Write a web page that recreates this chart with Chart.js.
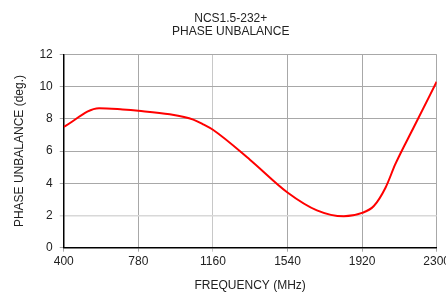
<!DOCTYPE html>
<html>
<head>
<meta charset="utf-8">
<script src="https://cdn.jsdelivr.net/npm/chart.js@4.4.0/dist/chart.umd.min.js"></script>
<style>
html,body{margin:0;padding:0;overflow:hidden;background:#fff;width:446px;height:294px;}
#wrap{width:453px;height:294px;position:relative;}
</style>
</head>
<body>
<div id="wrap"><canvas id="c" width="453" height="294"></canvas></div>
<script>
const titleLines = ['NCS1.5-232+', 'PHASE UNBALANCE'];
const xTitle = 'FREQUENCY (MHz)';
const yTitle = 'PHASE UNBALANCE (deg.)';
const xTicks = [400, 780, 1160, 1540, 1920, 2300];
const yTicks = [0, 2, 4, 6, 8, 10, 12];
const freqs = [400, 580, 700, 780, 940, 1060, 1110, 1160, 1350, 1540, 1690, 1827, 1920, 1980, 2040, 2090, 2184, 2300];
const phase = [7.5, 8.66, 8.58, 8.5, 8.28, 7.95, 7.66, 7.32, 5.45, 3.43, 2.32, 1.95, 2.16, 2.59, 3.74, 5.2, 7.49, 10.3];

const font = {family: '"Liberation Sans", Arial, sans-serif', size: 12};
const gridCol = '#a8a8a8';

new Chart(document.getElementById('c'), {
  type: 'line',
  data: {
    datasets: [{
      data: freqs.map((f, i) => ({x: f, y: phase[i]})),
      borderColor: '#ff0000',
      borderWidth: 2,
      pointRadius: 0,
      fill: false,
      cubicInterpolationMode: 'monotone'
    }]
  },
  options: {
    responsive: false,
    animation: false,
    layout: {padding: {left: 12, right: 3.5, top: 0, bottom: 1.5}},
    plugins: {
      legend: {display: false},
      tooltip: {enabled: false},
      title: {
        display: true,
        text: titleLines,
        color: '#222',
        font: {family: font.family, size: 12, weight: 'normal', lineHeight: 1.12},
        padding: {top: 12, bottom: 15.5}
      }
    },
    scales: {
      x: {
        type: 'linear',
        min: xTicks[0],
        max: xTicks[xTicks.length - 1],
        afterBuildTicks: s => { s.ticks = xTicks.map(v => ({value: v})); },
        ticks: {color: '#222', font: font, padding: 3, maxRotation: 0, autoSkip: false, callback: v => String(v)},
        grid: {
          color: ctx => (ctx.tick && ctx.tick.value === 1160) ? '#c8c8c8' : gridCol,
          lineWidth: 1,
          tickLength: 4
        },
        border: {color: '#000', width: 1.5},
        title: {display: true, text: xTitle, color: '#222', font: font, padding: {top: 6, bottom: 0}}
      },
      y: {
        min: 0,
        max: 12,
        afterBuildTicks: s => { s.ticks = yTicks.map(v => ({value: v})); },
        ticks: {color: '#222', font: font, padding: 7, callback: v => String(v)},
        grid: {
          color: ctx => (ctx.tick && ctx.tick.value === 2) ? '#d8d8d8' : gridCol,
          lineWidth: ctx => (ctx.tick && ctx.tick.value === 2) ? 1.5 : 1,
          tickLength: 4
        },
        border: {color: '#000', width: 1.5},
        title: {display: true, text: yTitle, color: '#222', font: font, padding: {top: 0, bottom: 6}}
      }
    }
  }
});
</script>
</body>
</html>
